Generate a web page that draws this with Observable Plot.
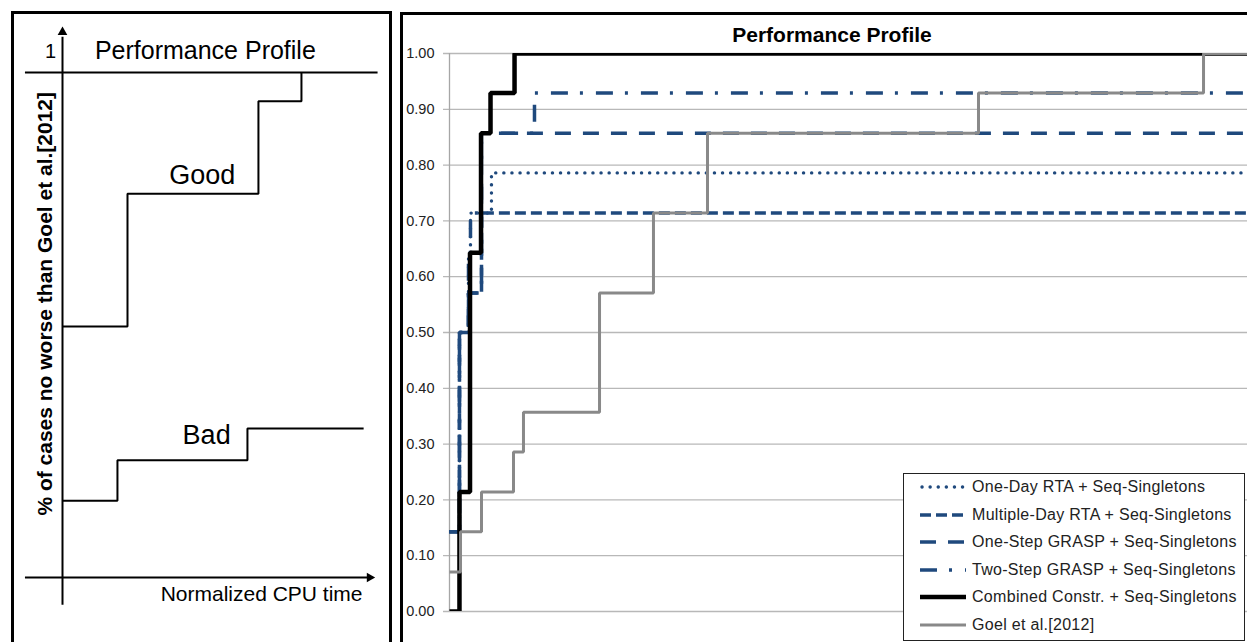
<!DOCTYPE html>
<html>
<head>
<meta charset="utf-8">
<script src="https://cdn.jsdelivr.net/npm/d3@7"></script>
<script src="https://cdn.jsdelivr.net/npm/@observablehq/plot@0.6"></script>
<style>
  html, body { margin: 0; padding: 0; background: #fff; width: 1247px; height: 642px; overflow: hidden; }
  #stage { position: relative; width: 1247px; height: 642px; overflow: hidden; font-family: "Liberation Sans", Arial, sans-serif; }
  .frame { position: absolute; border: 3px solid #000; box-sizing: border-box; pointer-events: none; }
  .chart { position: absolute; top: 0; }
  #title { position: absolute; left: 632px; top: 24px; width: 400px; text-align: center; font-weight: bold; font-size: 21px; line-height: 21px; color: #000; }
  #legend { position: absolute; left: 903px; top: 473px; width: 342px; height: 168px; box-sizing: border-box; border: 1.5px solid #222; background: #fff; }
  .row { position: absolute; left: 16px; height: 20px; display: flex; align-items: center; white-space: nowrap; font-size: 16px; letter-spacing: 0.3px; color: #222; }
  .row svg { margin-right: 6px; flex: none; }
</style>
</head>
<body>
<div id="stage">
  <div class="frame" style="left:11px; top:11px; width:381px; height:700px;"></div>
  <div id="leftChart" class="chart" style="left:0px;"></div>
  <div id="rightChart" class="chart" style="left:400px;"></div>
  <div class="frame" style="left:400px; top:12px; width:900px; height:700px;"></div>
  <div id="title">Performance Profile</div>
  <div id="legend"></div>
</div>
<script>
// ---------------- data: right panel (performance profile) ----------------
const seriesNames = [
  "One-Day RTA + Seq-Singletons",
  "Multiple-Day RTA + Seq-Singletons",
  "One-Step GRASP + Seq-Singletons",
  "Two-Step GRASP + Seq-Singletons",
  "Combined Constr. + Seq-Singletons",
  "Goel et al.[2012]"
];
// x: normalized CPU time (unlabelled axis, visible span 0..100); y: fraction of cases
const oneDayX   = [0, 1.25, 2.38, 2.63, 5.26, 100];
const oneDayY   = [0.143, 0.5, 0.643, 0.714, 0.786, 0.786];
const multiDayX = [0, 1.25, 2.38, 4.01, 100];
const multiDayY = [0.143, 0.5, 0.571, 0.714, 0.714];
const oneStepX  = [0, 1.25, 2.38, 4.01, 4.0, 100];
const oneStepY  = [0.143, 0.5, 0.571, 0.714, 0.857, 0.857];
const twoStepX  = [0, 1.25, 2.38, 2.63, 4.0, 10.65, 100];
const twoStepY  = [0.143, 0.5, 0.643, 0.714, 0.857, 0.929, 0.929];
const combinedX = [0, 1.25, 2.57, 3.95, 5.14, 8.15, 100];
const combinedY = [0, 0.214, 0.643, 0.857, 0.929, 1, 1];
const goelX     = [0, 1.38, 4.01, 8.02, 9.27, 18.80, 25.56, 32.33, 66.29, 94.49, 100];
const goelY     = [0.071, 0.143, 0.214, 0.286, 0.357, 0.571, 0.714, 0.857, 0.929, 1, 1];
const yTicks    = [0, 0.1, 0.2, 0.3, 0.4, 0.5, 0.6, 0.7, 0.8, 0.9, 1.0];

// ---------------- data: left panel (schematic) ----------------
const goodX = [0, 20.7, 62.4, 76.1];
const goodY = [0.497, 0.760, 0.943, 1.0];
const badX  = [0, 17.5, 58.9, 95.9];
const badY  = [0.152, 0.232, 0.295, 0.295];
const leftLabels = ["Performance Profile", "1", "Good", "Bad", "Normalized CPU time", "% of cases no worse than Goel et al.[2012]"];

// ---------------- styles ----------------
const FONT = "Liberation Sans, Arial, sans-serif";
const BLUE = "#1F497D";
const GRAY = "#898989";
const styles = [
  {stroke: BLUE, strokeWidth: 3.4, dash: "0.1,8", cap: "round"},
  {stroke: BLUE, strokeWidth: 3.5, dash: "11,5", cap: "butt"},
  {stroke: BLUE, strokeWidth: 3.5, dash: "16,12", cap: "butt"},
  {stroke: BLUE, strokeWidth: 3.5, dash: "17,12,3,13", cap: "butt"},
  {stroke: "#000", strokeWidth: 4.5, dash: null, cap: "butt"},
  {stroke: GRAY, strokeWidth: 3, dash: null, cap: "butt"}
];
const seriesX = [oneDayX, multiDayX, oneStepX, twoStepX, combinedX, goelX];
const seriesY = [oneDayY, multiDayY, oneStepY, twoStepY, combinedY, goelY];
const pts = (X, Y) => X.map((x, i) => ({x, y: Y[i]}));

// ---------------- left schematic ----------------
const leftPlot = Plot.plot({
  width: 400, height: 642,
  marginLeft: 62, marginRight: 24, marginTop: 72, marginBottom: 65,
  x: {domain: [0, 100], axis: null},
  y: {domain: [0, 1], axis: null},
  style: {fontFamily: FONT, background: "transparent", overflow: "visible", color: "#000"},
  marks: [
    Plot.ruleY([1], {x1: -11.8, x2: 100.5, stroke: "#000", strokeWidth: 2}),
    Plot.ruleX([0], {y1: -0.055, y2: 1.07, stroke: "#000", strokeWidth: 2}),
    Plot.ruleY([0], {x1: -11.8, x2: 97.5, stroke: "#000", strokeWidth: 2}),
    Plot.dot([0], {x: () => 0, y: () => 1.08, symbol: "triangle", r: 3.6, fill: "#000"}),
    Plot.dot([0], {x: () => 97.8, y: () => 0, symbol: "triangle", rotate: 90, r: 3.6, fill: "#000"}),
    Plot.line(pts(goodX, goodY), {x: "x", y: "y", curve: "step-after", stroke: "#000", strokeWidth: 2, strokeLinejoin: "miter", strokeLinecap: "butt"}),
    Plot.line(pts(badX, badY), {x: "x", y: "y", curve: "step-after", stroke: "#000", strokeWidth: 2, strokeLinejoin: "miter", strokeLinecap: "butt"}),
    Plot.text([leftLabels[0]], {x: () => 45.5, y: () => 1.042, fontSize: 25, fill: "#000"}),
    Plot.text([leftLabels[1]], {x: () => -3.8, y: () => 1.042, fontSize: 20, fill: "#000"}),
    Plot.text([leftLabels[2]], {x: () => 44.5, y: () => 0.796, fontSize: 27, fill: "#000"}),
    Plot.text([leftLabels[3]], {x: () => 45.9, y: () => 0.281, fontSize: 27, fill: "#000"}),
    Plot.text([leftLabels[4]], {x: () => 63.4, y: () => -0.034, fontSize: 21, fill: "#000"}),
    Plot.text([leftLabels[5]], {x: () => -5.6, y: () => 0.542, rotate: -90, fontSize: 21, fontWeight: "bold", fill: "#000"})
  ]
});
document.getElementById("leftChart").append(leftPlot);

// ---------------- right performance profile ----------------
const lineMarks = seriesX.map((X, i) => Plot.line(pts(X, seriesY[i]), {
  x: "x", y: "y", curve: "step-after", clip: true,
  stroke: styles[i].stroke, strokeWidth: styles[i].strokeWidth,
  strokeDasharray: styles[i].dash, strokeLinecap: styles[i].cap, strokeLinejoin: "miter"
}));

const rightPlot = Plot.plot({
  width: 847, height: 642,
  marginLeft: 49, marginRight: 0, marginTop: 53, marginBottom: 31,
  x: {domain: [0, 100], axis: null},
  y: {domain: [0, 1], ticks: yTicks, tickFormat: d3.format(".2f"), tickSize: 0, tickPadding: 15, label: null, fontSize: 14.5},
  style: {fontFamily: FONT, fontSize: "14.5px", background: "transparent", overflow: "visible", color: "#222"},
  marks: [
    Plot.ruleY(yTicks, {x1: -0.75, x2: 100, stroke: "#b8b8b8", strokeWidth: 1.3}),
    Plot.ruleX([0], {y1: 0, y2: 1, stroke: "#a6a6a6", strokeWidth: 1.3}),
    ...lineMarks
  ]
});
document.getElementById("rightChart").append(rightPlot);

// ---------------- legend ----------------
const legend = document.getElementById("legend");
seriesNames.forEach((name, i) => {
  const s = styles[i];
  const row = document.createElement("div");
  row.className = "row";
  row.style.top = (3 + 27.6 * i) + "px";
  const dash = s.dash ? `stroke-dasharray="${s.dash}"` : "";
  row.innerHTML = `<svg width="46" height="12"><line x1="${s.cap === 'round' ? 2 : 0}" y1="6" x2="46" y2="6" stroke="${s.stroke}" stroke-width="${s.strokeWidth}" ${dash} stroke-linecap="${s.cap}"/></svg><span>${name}</span>`;
  legend.append(row);
});
</script>
</body>
</html>
